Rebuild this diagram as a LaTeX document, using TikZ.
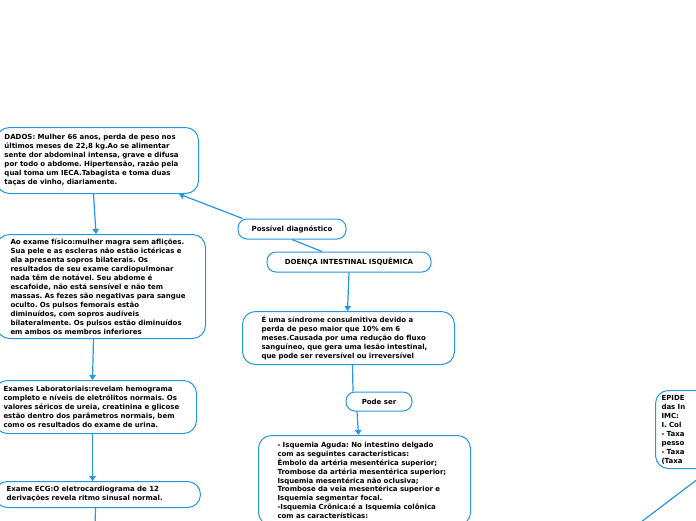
\documentclass[tikz,border=0pt]{standalone}
\usepackage{fontspec}
\setmainfont{DejaVu Sans}
\usepackage{xcolor}
\usetikzlibrary{arrows.meta}
\definecolor{mapblue}{RGB}{38,150,222}
\frenchspacing
\tikzset{
topic/.style={draw=mapblue, line width=1pt, rounded corners=13pt, fill=white,
anchor=north west, align=left, inner ysep=0pt, font=\fontsize{7}{9}\selectfont\bfseries},
tag/.style={topic, rounded corners=9pt, align=center, anchor=center, inner xsep=4pt},
link/.style={draw=mapblue, line width=1.2pt},
arrow/.style={link, -{Triangle[length=5pt,width=6.5pt]}}
}

\begin{document}
\begin{tikzpicture}[x=1pt,y=-1pt]
\useasboundingbox (0,0) rectangle (696,520);
\clip (0,0) rectangle (696,520);
% left column
\node[topic, text width=186pt, inner xsep=8pt, minimum height=66pt](dados) at (-4,127)
{DADOS: Mulher 66 anos, perda de peso nos\\
últimos meses de 22,8 kg.Ao se alimentar\\
sente dor abdominal intensa, grave e difusa\\
por todo o abdome. Hipertensão, razão pela\\
qual toma um IECA.Tabagista e toma duas\\
taças de vinho, diariamente.};
\node[topic, text width=181pt, inner xsep=14pt, minimum height=104pt](exfisico) at (-4,234)
{Ao exame físico:mulher magra sem aflições.\\
Sua pele e as escleras não estão ictéricas e\\
ela apresenta sopros bilaterais. Os\\
resultados de seu exame cardiopulmonar\\
nada têm de notável. Seu abdome é\\
escafoide, não está sensível e não tem\\
massas. As fezes são negativas para sangue\\
oculto. Os pulsos femorais estão\\
diminuídos, com sopros audíveis\\
bilateralmente. Os pulsos estão diminuídos\\
em ambos os membros inferiores};
\node[topic, text width=184pt, inner xsep=9pt, minimum height=53pt](exlab) at (-6,380)
{Exames Laboratoriais:revelam hemograma\\
completo e níveis de eletrólitos normais. Os\\
valores séricos de ureia, creatinina e glicose\\
estão dentro dos parâmetros normais, bem\\
como os resultados do exame de urina.};
\node[topic, text width=182pt, inner xsep=12pt, minimum height=26pt](ecg) at (-6,481)
{Exame ECG:O eletrocardiograma de 12\\
derivações revela ritmo sinusal normal.};
\coordinate (ecgout) at (95,530);
% middle column
\node[tag, minimum width=108pt, minimum height=20pt](possivel) at (292,229) {Possível diagnóstico};
\node[tag, minimum width=164pt, minimum height=20pt](doenca) at (349,262) {DOENÇA INTESTINAL ISQUÊMICA};
\node[topic, text width=174pt, inner xsep=19pt, minimum height=53pt](sindrome) at (242,311)
{É uma síndrome consulmitiva devido a\\
perda de peso maior que 10\% em 6\\
meses.Causada por uma redução do fluxo\\
sanguíneo, que gera uma lesão intestinal,\\
que pode ser reversível ou irreversível};
\node[tag, minimum width=66pt, minimum height=19pt](podeser) at (379,401.5) {Pode ser};
\node[topic, text width=174pt, inner xsep=19pt, inner ysep=7pt,
font=\fontsize{7}{8.8}\selectfont\bfseries](isquemia) at (258,435)
{- Isquemia Aguda: No intestino delgado\\
com as seguintes características:\\
Êmbolo da artéria mesentérica superior;\\
Trombose da artéria mesentérica superior;\\
Isquemia mesentérica não oclusiva;\\
Trombose da veia mesentérica superior e\\
Isquemia segmentar focal.\\
-Isquemia Crônica:é a Isquemia colônica\\
com as características:};
% right edge
\node[topic, text width=98pt, inner xsep=6pt, minimum height=78pt](epidem) at (655,390)
{EPIDE\\ das In\\ IMC:\\ I. Col\\ - Taxa\\ pesso\\ - Taxa\\ (Taxa};
\coordinate (epidout) at (591,560);

\foreach \a/\b/\s/\t in {dados/exfisico/-4/-5,exfisico/exlab/-7.5/-3,exlab/ecg/-3/-5,
doenca/sindrome/0/-1,podeser/isquemia/-22/-6}
\draw[arrow]([xshift=\s pt]\a.south)--([xshift=\t pt]\b.north);
\draw[arrow]([xshift=5pt]possivel.north west)--([xshift=-20pt]dados.south east);
\draw[link](possivel.south)--([xshift=-27pt]doenca.north);
\draw[link]([xshift=4pt]sindrome.south)--([xshift=-26pt]podeser.north);
\draw[link]([xshift=-2pt]ecg.south)--(ecgout);
\draw[link]([xshift=-55pt]epidem.south east)--(epidout);
\end{tikzpicture}
\end{document}
